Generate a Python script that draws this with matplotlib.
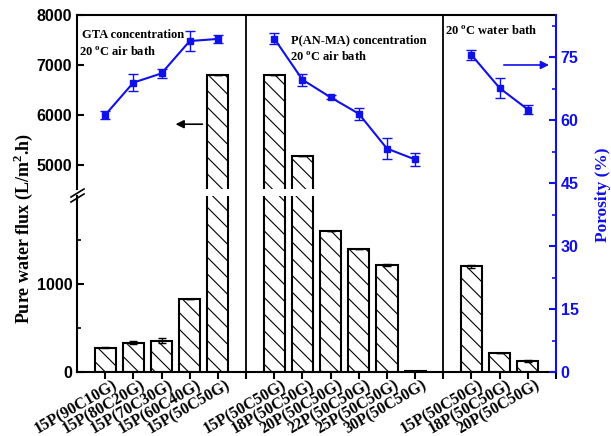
import numpy as np
import matplotlib
matplotlib.use("Agg")
import matplotlib.pyplot as plt
import matplotlib.transforms as mtransforms
from matplotlib.lines import Line2D

plt.rcParams["font.family"] = "Liberation Sans"
plt.rcParams["font.weight"] = "bold"
plt.rcParams["mathtext.fontset"] = "custom"
plt.rcParams["mathtext.rm"] = "Liberation Serif:bold"
plt.rcParams["mathtext.bf"] = "Liberation Serif:bold"
plt.rcParams["hatch.linewidth"] = 0.8

# three series of membranes, split by separators
groups = [5, 6, 3]
labels = ["15P(90C10G)", "15P(80C20G)", "15P(70C30G)", "15P(60C40G)", "15P(50C50G)",
          "15P(50C50G)", "18P(50C50G)", "20P(50C50G)", "22P(50C50G)", "25P(50C50G)", "30P(50C50G)",
          "15P(50C50G)", "18P(50C50G)", "20P(50C50G)"]
flux = [276, 333, 356, 833, 6800,
        6800, 5190, 1600, 1400, 1220, 10,
        1200, 212, 125]
flux_err = [8, 15, 25, 0, 0,
            0, 0, 0, 0, 10, 0,
            20, 0, 15]
porosity = [61.2, 68.9, 71.1, 78.8, 79.3,
            79.4, 69.6, 65.4, 61.5, 53.2, 50.6,
            75.5, 67.6, 62.5]
porosity_err = [1.0, 2.0, 1.0, 2.3, 1.0,
                1.2, 1.4, 0.5, 1.4, 2.6, 1.6,
                1.2, 2.4, 1.0]

# x positions, one empty slot between groups for the divider
pos, seps, slices = [], [], []
x, i0 = 1, 0
for k, n in enumerate(groups):
    pos += list(range(x, x + n))
    slices.append(slice(i0, i0 + n))
    x += n
    i0 += n
    if k < len(groups) - 1:
        seps.append(x)
        x += 1
xmax = x

W, H = 611, 436
fig = plt.figure(figsize=(W / 100, H / 100), dpi=100)
left, width = 77 / W, (556 - 77) / W
ax_lo = fig.add_axes([left, (H - 372) / H, width, 176 / H])
ax_hi = fig.add_axes([left, (H - 189) / H, width, 174 / H], sharex=ax_lo)
ax_p = fig.add_axes([left, (H - 372) / H, width, 357 / H], sharex=ax_lo)

for ax in (ax_lo, ax_hi):
    ax.bar(pos, flux, width=0.75, color="white", edgecolor="black", hatch="\\\\",
           linewidth=1.5, yerr=flux_err, capsize=3,
           error_kw=dict(elinewidth=1, capthick=1, ecolor="black"))
    ax.spines["right"].set_visible(False)
    for s in ax.spines.values():
        s.set_linewidth(1.5)
    ax.tick_params(axis="y", direction="in", labelsize=11.5, width=1.5, length=5)
    ax.tick_params(axis="y", which="minor", direction="in", width=1.2, length=3)

ax_lo.set_ylim(0, 2000)
ax_lo.spines["top"].set_visible(False)
ax_lo.set_yticks([0, 1000])
ax_lo.set_yticks([500, 1500], minor=True)

ax_hi.set_ylim(4520, 8000)
ax_hi.spines["bottom"].set_visible(False)
ax_hi.set_yticks([5000, 6000, 7000, 8000])
ax_hi.tick_params(axis="x", bottom=False, labelbottom=False)

ax_lo.set_xlim(0, xmax)
ax_lo.set_xticks(list(range(1, xmax + 1)))
ax_lo.tick_params(axis="x", direction="out", width=1.5, length=5, labelbottom=False)

# slanted category names, nudged right of their ticks
shift = mtransforms.ScaledTranslation(7 / 100, -5 / 100, fig.dpi_scale_trans)
for p, lab in zip(pos, labels):
    ax_lo.text(p, 0, lab, transform=ax_lo.get_xaxis_transform() + shift,
               rotation=30, ha="right", va="top", rotation_mode="anchor",
               family="Liberation Serif", fontsize=11.5, fontweight="bold")

# porosity on the right
blue = "#1010e8"
ax_p.patch.set_visible(False)
for s in ("left", "top", "bottom"):
    ax_p.spines[s].set_visible(False)
ax_p.spines["right"].set_color(blue)
ax_p.spines["right"].set_linewidth(1.5)
ax_p.yaxis.tick_right()
ax_p.set_ylim(0, 85)
ax_p.set_yticks(np.arange(0, 76, 15))
ax_p.set_yticks(np.arange(7.5, 85, 15), minor=True)
ax_p.tick_params(axis="y", which="both", direction="in", colors=blue, labelsize=11.5)
ax_p.tick_params(axis="y", which="major", width=1.5, length=5)
ax_p.tick_params(axis="y", which="minor", width=1.2, length=3)
ax_p.tick_params(axis="x", bottom=False, labelbottom=False)

for s in seps:
    ax_p.axvline(s, color="black", lw=1.3)

px = np.array(pos)
pv = np.array(porosity)
pe = np.array(porosity_err)
for sl in slices:
    ax_p.errorbar(px[sl], pv[sl], yerr=pe[sl], color=blue, lw=1.5, marker="s",
                  markersize=5, capsize=3.5, elinewidth=1, capthick=1)

# arrows pointing to the matching axes
ax_p.annotate("", xy=(3.4, 59), xytext=(4.55, 59),
              arrowprops=dict(arrowstyle="-|>", color="black", lw=1.2, mutation_scale=12))
ax_p.annotate("", xy=(16.85, 73.1), xytext=(15.05, 73.1),
              arrowprops=dict(arrowstyle="-|>", color=blue, lw=1.2, mutation_scale=12))

# axis break marks on the flux axis
for dy in (0, 5):
    fig.add_artist(Line2D([71 / W, 84 / W], [(H - 197 - dy) / H, (H - 189 - dy) / H],
                          color="black", lw=1.2, transform=fig.transFigure))

fig.text(23 / W, 0.477, "Pure water flux (L/m$^\\mathbf{2}$.h)", rotation=90, ha="center",
         va="center", family="Liberation Serif", fontsize=13, fontweight="bold")
fig.text(603 / W, 0.553, "Porosity (%)", rotation=90, ha="center", va="center",
         family="Liberation Serif", fontsize=12.5, fontweight="bold", color=blue)

serif = dict(family="Liberation Serif", fontsize=9, fontweight="bold", va="center")
fig.text(82 / W, 1 - 35 / H, "GTA concentration", **serif)
fig.text(79 / W, 1 - 52 / H, "20 $^\\mathbf{o}$C air bath", **serif)
fig.text(291 / W, 1 - 40 / H, "P(AN-MA) concentration", **serif)
fig.text(290 / W, 1 - 57 / H, "20 $^\\mathbf{o}$C air bath", **serif)
fig.text(445 / W, 1 - 31 / H, "20 $^\\mathbf{o}$C water bath", **serif)

fig.savefig("out.png", dpi=100)
